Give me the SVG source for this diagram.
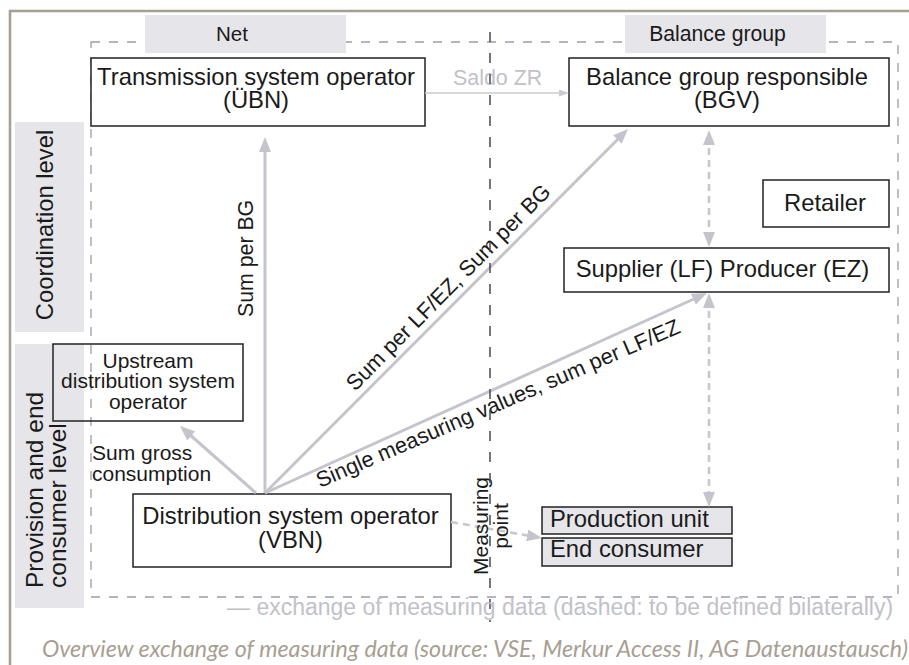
<svg xmlns="http://www.w3.org/2000/svg" width="909" height="665" viewBox="0 0 909 665">
<style>
  text { font-family: "Liberation Sans", Arial, sans-serif; fill: #1a1a1a; }
  .big { font-size: 23.8px; }
  .mid { font-size: 21.3px; }
  .box { fill: #ffffff; stroke: #222222; stroke-width: 1.5; }
  .boxn { fill: none; stroke: #222222; stroke-width: 1.5; }
  .gbox { fill: #e6e5ea; stroke: #222222; stroke-width: 1.5; }
  .lab { fill: #e6e5e9; }
  .arr { fill: none; stroke: #c5c4cc; stroke-width: 3; }
  .darr { fill: none; stroke: #c8c7cf; stroke-width: 2.6; stroke-dasharray: 7 5; }
  .light { fill: #c1c1c9; }
</style>
<defs>
  <marker id="ah" markerUnits="userSpaceOnUse" markerWidth="15" markerHeight="12" refX="9" refY="6" orient="auto-start-reverse">
    <path d="M0,0 L15,6 L0,12 z" fill="#c5c4cc"/>
  </marker>
  <marker id="ahs" markerUnits="userSpaceOnUse" markerWidth="10" markerHeight="7" refX="7" refY="3.5" orient="auto">
    <path d="M0,0 L10,3.5 L0,7 z" fill="#cacad1"/>
  </marker>
</defs>

<!-- outer frame -->
<path d="M10,665 V11 H909" fill="none" stroke="#a89f94" stroke-width="2.6"/>

<!-- dashed region -->
<rect x="91" y="42" width="807" height="555" fill="none" stroke="#9a9caa" stroke-width="1.3" stroke-dasharray="9 9"/>

<!-- side labels -->
<g id="coordination-level">
  <rect class="lab" x="15" y="122" width="69" height="210"/>
  <text class="big" font-size="24" transform="translate(53,225) rotate(-90)" text-anchor="middle">Coordination level</text>
</g>
<g id="provision-level">
  <rect class="lab" x="15" y="344" width="69" height="264"/>
  <text class="big" style="font-size:24.5px" transform="translate(43,588) rotate(-90)">Provision and end</text>
  <text class="big" style="font-size:24.5px" transform="translate(66,588) rotate(-90)">consumer level</text>
</g>

<!-- column headers -->
<g id="net-header">
  <rect class="lab" x="145" y="15" width="201" height="38"/>
  <text style="font-size:20.6px" x="232" y="41" text-anchor="middle">Net</text>
</g>
<g id="balance-group-header">
  <rect class="lab" x="625" y="15" width="201" height="38"/>
  <text style="font-size:21.2px" x="717.5" y="41" text-anchor="middle">Balance group</text>
</g>

<!-- nodes -->
<g id="tso">
  <rect class="box" x="91" y="58" width="334" height="68"/>
  <text class="big" x="256" y="84.5" text-anchor="middle">Transmission system operator</text>
  <text class="big" x="256" y="108" text-anchor="middle">(ÜBN)</text>
</g>
<g id="bgv">
  <rect class="box" x="569" y="58" width="320" height="68"/>
  <text class="big" x="727" y="84.5" text-anchor="middle">Balance group responsible</text>
  <text class="big" x="727" y="108" text-anchor="middle">(BGV)</text>
</g>
<g id="retailer">
  <rect class="box" x="763" y="180" width="126" height="47"/>
  <text class="big" x="825" y="211" text-anchor="middle">Retailer</text>
</g>
<g id="supplier">
  <rect class="box" x="564" y="248" width="325" height="44"/>
  <text class="big" x="722.5" y="277" text-anchor="middle">Supplier (LF) Producer (EZ)</text>
</g>
<g id="upstream-dso">
  <rect class="boxn" x="53" y="344" width="190" height="77"/>
  <text style="font-size:21px" x="148" y="367.5" text-anchor="middle">Upstream</text>
  <text style="font-size:21px" x="148" y="388" text-anchor="middle">distribution system</text>
  <text style="font-size:21px" x="148" y="408.5" text-anchor="middle">operator</text>
</g>
<g id="dso">
  <rect class="box" x="133" y="494" width="318" height="73"/>
  <text class="big" x="290.5" y="524" text-anchor="middle">Distribution system operator</text>
  <text class="big" x="290.5" y="548" text-anchor="middle">(VBN)</text>
</g>
<g id="production-unit">
  <rect class="gbox" x="542" y="507" width="190" height="27"/>
  <text class="big" x="550" y="527">Production unit</text>
</g>
<g id="end-consumer">
  <rect class="gbox" x="542" y="538" width="190" height="28"/>
  <text class="big" x="550" y="557">End consumer</text>
</g>

<!-- connectors -->
<g id="connectors">
  <line class="arr" x1="265" y1="493" x2="265" y2="143" marker-end="url(#ah)"/>
  <line class="arr" x1="265" y1="493" x2="623.8" y2="133.2" marker-end="url(#ah)"/>
  <line class="arr" x1="265" y1="493" x2="701.5" y2="295.5" marker-end="url(#ah)"/>
  <line class="arr" x1="256" y1="493" x2="184.5" y2="430" marker-end="url(#ah)"/>
  <line x1="425" y1="93" x2="566" y2="93" stroke="#cacad1" stroke-width="1.5" marker-end="url(#ahs)"/>
  <line class="darr" x1="709" y1="136" x2="709" y2="241" marker-start="url(#ah)" marker-end="url(#ah)"/>
  <line class="darr" x1="709" y1="299" x2="709" y2="501" marker-start="url(#ah)" marker-end="url(#ah)"/>
  <line class="darr" x1="451" y1="522" x2="536" y2="537" marker-end="url(#ah)"/>

  <text class="mid" transform="translate(253,317) rotate(-90)">Sum per BG</text>
  <text class="mid" style="font-size:21.8px" transform="translate(355,392) rotate(-45.3)">Sum per LF/EZ, Sum per BG</text>
  <text class="mid" style="font-size:21.8px" transform="translate(320,488) rotate(-23.3)">Single measuring values, sum per LF/EZ</text>
  <text style="font-size:21px" x="92" y="460">Sum gross</text>
  <text style="font-size:21px" x="92" y="481">consumption</text>
  <text class="light" style="font-size:21.4px" x="453" y="85">Saldo ZR</text>
  <text style="font-size:21px" transform="translate(488,526) rotate(-90)" text-anchor="middle">Measuring</text>
  <text style="font-size:21px" transform="translate(508,526) rotate(-90)" text-anchor="middle">point</text>
</g>

<!-- divider between Net and Balance group -->
<line x1="490" y1="32" x2="490" y2="622" stroke="#4a4a4a" stroke-width="1.5" stroke-dasharray="10 11"/>

<!-- legend and caption -->
<text class="light" style="font-size:23px" x="227" y="615">— exchange of measuring data (dashed: to be defined bilaterally)</text>
<text style="font-family:Lato, 'Open Sans', sans-serif; font-style:italic; font-size:23px; fill:#a89e92" x="42" y="657" textLength="866" lengthAdjust="spacingAndGlyphs">Overview exchange of measuring data (source: VSE, Merkur Access II, AG Datenaustausch)</text>
</svg>
